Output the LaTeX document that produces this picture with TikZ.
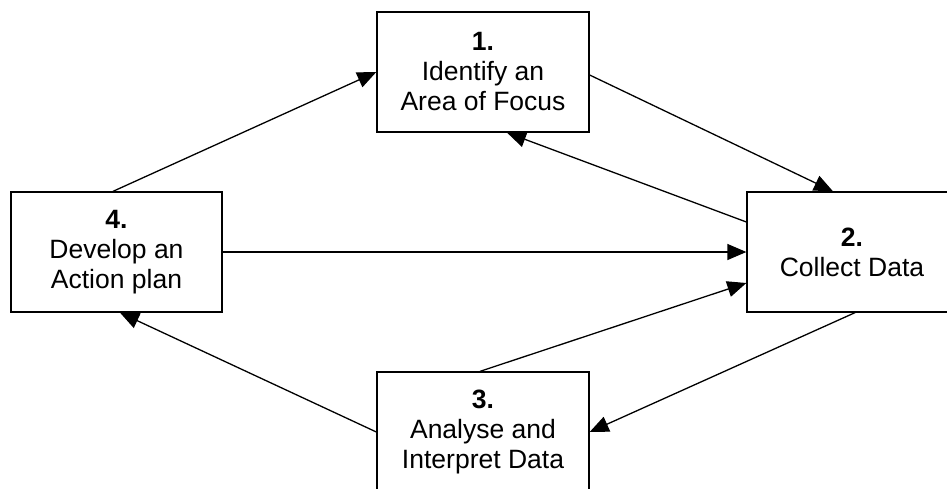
\documentclass[tikz,border=0pt]{standalone}
\usepackage{fontspec}
\setmainfont{Liberation Sans}
\usetikzlibrary{arrows.meta}

\begin{document}
\begin{tikzpicture}
[
x=1pt, y=-1pt,
stage/.style={draw, line width=1.3pt, rectangle, minimum width=212pt, minimum height=120pt,
  inner sep=0, align=center, font=\fontsize{26.5}{30}\selectfont},
flow/.style={line width=1.3pt, -{Triangle[length=19pt, width=16pt]}}
]
\useasboundingbox (0,0) rectangle (947,489);

\node[stage] (focus)   at (483,  72) {\textbf{1.}\\Identify an\\Area of Focus};
\node[stage, minimum width=210pt] (collect) at (852, 252) {\textbf{2.}\\Collect Data};
\node[stage] (analyse) at (483, 432) {\textbf{3.}\\Analyse and\\Interpret Data};
\node[stage, minimum width=211pt] (plan)    at (116.5, 252) {\textbf{4.}\\Develop an\\Action plan};

\draw[flow] ([xshift=-3.5pt]plan.north) to (focus.west);
\draw[flow] ([yshift=-3pt]focus.east) to ([xshift=-19pt]collect.north);
\draw[flow] ([yshift=30pt]collect.west) to ([xshift=24pt]focus.south);
\draw[flow] (plan.east) to (collect.west);
\draw[flow] ([xshift=-3pt]analyse.north) to ([yshift=-31pt]collect.west);
\draw[flow] ([xshift=3pt]collect.south) to (analyse.east);
\draw[flow] (analyse.west) to ([xshift=3.5pt]plan.south);
\end{tikzpicture}
\end{document}
